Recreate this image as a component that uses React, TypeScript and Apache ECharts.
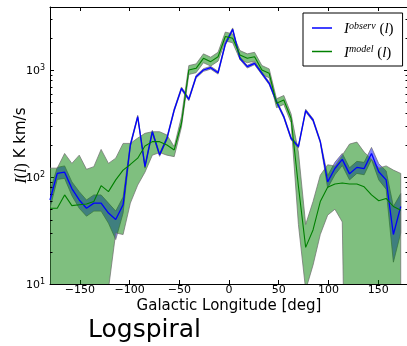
import React, { useEffect, useRef } from 'react';
import * as echarts from 'echarts';

const longitudes = [
  -180.0, -172.7, -165.3, -158.0, -150.6, -143.3, -135.9, -128.6, -121.2, -113.9,
  -106.5, -99.2, -91.8, -84.5, -77.1, -69.8, -62.4, -55.1, -47.8, -40.4,
  -33.1, -25.7, -18.4, -11.0, -3.7, 3.7, 11.0, 18.4, 25.7, 33.1,
  40.4, 47.8, 55.1, 62.4, 69.8, 77.1, 84.5, 91.8, 99.2, 106.5,
  113.9, 121.2, 128.6, 135.9, 143.3, 150.6, 158.0, 165.3, 172.7,
];

const observed = [
  61, 108, 111, 78, 61, 51, 57, 57, 46, 40,
  55, 199, 366, 125, 265, 161, 230, 423, 674, 532,
  866, 1000, 1050, 943, 1750, 2400, 1285, 1074, 1155, 931,
  751, 506, 366, 230, 192, 417, 341, 214, 90, 120,
  146, 107, 123, 120, 166, 112, 94, 29, 53,
];
const observedLow = [
  51, 95, 97, 67, 51, 43, 48, 48, 37, 26,
  46, 193, 355, 121, 257, 156, 223, 411, 654, 517,
  841, 971, 1019, 916, 1699, 2330, 1248, 1043, 1121, 904,
  729, 491, 355, 223, 186, 405, 331, 208, 79, 105,
  128, 94, 108, 105, 146, 94, 77, 16, 30,
];
const observedHigh = [
  73, 123, 127, 90, 73, 61, 68, 68, 57, 48,
  65, 205, 377, 129, 273, 166, 237, 436, 694, 548,
  892, 1030, 1082, 971, 1803, 2472, 1324, 1106, 1190, 959,
  774, 521, 377, 237, 198, 430, 351, 220, 103, 137,
  166, 122, 140, 137, 189, 133, 114, 53, 70,
];

const model = [
  51, 51, 68, 54, 55, 56, 59, 83, 73, 94,
  116, 131, 150, 195, 214, 214, 199, 179, 318, 1000,
  1037, 1286, 1197, 1331, 2056, 1977, 1380, 1286, 1331, 1000,
  931, 489, 525, 354, 82, 22, 32, 59, 80, 86,
  88, 86, 86, 81, 68, 60, 63, 53, 49,
];
const modelLow = [
  1, 1, 1, 1, 1, 1, 1, 1, 9, 30,
  29, 57, 84, 111, 160, 169, 160, 155, 293, 909,
  943, 1169, 1088, 1210, 1869, 1797, 1255, 1169, 1210, 909,
  846, 445, 477, 322, 36, 8.8, 15, 29, 44, 50,
  38, 0.003, 1, 1, 1, 1, 1, 1, 1,
];
const modelHigh = [
  121, 121, 166, 134, 160, 118, 125, 181, 134, 150,
  206, 206, 231, 256, 265, 265, 247, 192, 366, 1100,
  1140, 1415, 1317, 1464, 2262, 2175, 1518, 1415, 1464, 1100,
  1024, 538, 578, 389, 171, 36, 59, 104, 130, 127,
  160, 203, 212, 171, 147, 121, 127, 116, 108,
];

const xTickValues = [-150, -100, -50, 0, 50, 100, 150];
const yMinorTickValues = [20, 30, 40, 50, 60, 70, 80, 90, 200, 300, 400, 500, 600, 700, 800, 900, 2000, 3000];

const OBS_NAME = 'observ';
const MODEL_NAME = 'model';

export default function App() {
  const ref = useRef<HTMLDivElement>(null);

  useEffect(() => {
    const chart = echarts.init(ref.current as HTMLDivElement, null, { renderer: 'svg' });

    const band = (lo: number[], hi: number[], fill: string) => (params: any, api: any) => {
      if (params.dataIndex !== 0) return null;
      const pts: number[][] = [];
      for (let i = 0; i < longitudes.length; i++) pts.push(api.coord([longitudes[i], hi[i]]));
      for (let i = longitudes.length - 1; i >= 0; i--) pts.push(api.coord([longitudes[i], lo[i]]));
      const cs = params.coordSys;
      return {
        type: 'polygon',
        shape: { points: pts },
        clipPath: { type: 'rect', shape: { x: cs.x, y: cs.y, width: cs.width, height: cs.height } },
        style: { fill, stroke: 'rgba(110,110,110,0.8)', lineWidth: 0.9 },
      };
    };

    const serif = 'Liberation Serif';
    const legendRich = {
      gap: { width: 7 },
      it: { fontFamily: serif, fontStyle: 'italic', fontSize: 15, color: '#000' },
      sup: { fontFamily: serif, fontStyle: 'italic', fontSize: 10, color: '#000', verticalAlign: 'top', padding: [0, 0, 6, 0] },
      n: { fontFamily: serif, fontSize: 15, color: '#000' },
    };

    const tickStyle = { color: '#000', width: 1 };

    chart.setOption({
      animation: false,
      grid: { left: 50, top: 7, width: 358, height: 277, containLabel: false, outerBoundsMode: 'none' },
      legend: {
        data: [OBS_NAME, MODEL_NAME],
        orient: 'vertical',
        left: 303,
        top: 13,
        padding: [7, 9, 7, 9],
        itemGap: 8,
        itemWidth: 20,
        itemHeight: 1.5,
        icon: 'rect',
        backgroundColor: '#fff',
        borderColor: '#000',
        borderWidth: 1,
        borderRadius: 0,
        formatter: (name: string) => `{gap|}{it|I}{sup|${name}}{n| (}{it|l}{n|)}`,
        textStyle: { rich: legendRich },
      },
      xAxis: [
        {
          type: 'value',
          min: -180,
          max: 180,
          position: 'bottom',
          axisLine: { show: true, onZero: false, lineStyle: tickStyle },
          axisTick: { show: true, inside: true, length: 4, customValues: xTickValues, lineStyle: tickStyle },
          axisLabel: {
            customValues: xTickValues,
            color: '#000',
            fontFamily: 'DejaVu Sans',
            fontSize: 11,
            margin: 0,
            formatter: (v: number) => (v < 0 ? '\u2212' + Math.abs(v) : String(v)),
          },
          splitLine: { show: false },
          name: 'Galactic Longitude [deg]',
          nameLocation: 'middle',
          nameGap: 13,
          nameMoveOverlap: false,
          nameTextStyle: { fontFamily: 'DejaVu Sans', fontSize: 15, color: '#000', verticalAlign: 'top' },
        },
        {
          type: 'value',
          min: -180,
          max: 180,
          position: 'top',
          axisLine: { show: true, onZero: false, lineStyle: tickStyle },
          axisTick: { show: true, inside: true, length: 4, customValues: xTickValues, lineStyle: tickStyle },
          axisLabel: { show: false },
          splitLine: { show: false },
        },
      ],
      yAxis: [
        {
          type: 'log',
          logBase: 10,
          min: 10,
          max: 3880,
          position: 'left',
          axisLine: { show: true, onZero: false, lineStyle: tickStyle },
          axisTick: { show: true, inside: true, length: 4, lineStyle: tickStyle },
          axisLabel: {
            showMaxLabel: false,
            margin: 5,
            formatter: (v: number) => `{b|10}{s|${Math.round(Math.log10(v))}}`,
            rich: {
              b: { fontFamily: 'DejaVu Sans', fontSize: 11, color: '#000' },
              s: { fontFamily: 'DejaVu Sans', fontSize: 8, color: '#000', verticalAlign: 'top', padding: [0, 0, 6, 0] },
            },
          },
          splitLine: { show: false },
          name: '{it|I}{n|(}{it|l}{n|)}{s| K km/s}',
          nameLocation: 'middle',
          nameGap: 22,
          nameRotate: 90,
          nameMoveOverlap: false,
          nameTextStyle: {
            rich: {
              it: { fontFamily: serif, fontStyle: 'italic', fontSize: 16, color: '#000' },
              n: { fontFamily: serif, fontSize: 16, color: '#000' },
              s: { fontFamily: 'DejaVu Sans', fontSize: 15, color: '#000' },
            },
          },
        },
        {
          type: 'log',
          logBase: 10,
          min: 10,
          max: 3880,
          position: 'right',
          axisLine: { show: true, onZero: false, lineStyle: tickStyle },
          axisTick: { show: true, inside: true, length: 4, lineStyle: tickStyle },
          axisLabel: { show: false },
          splitLine: { show: false },
        },
      ],
      series: [
        {
          type: 'custom',
          name: 'observBand',
          clip: true,
          data: [[longitudes[0], observed[0]]],
          renderItem: band(observedLow, observedHigh, 'rgba(0,0,255,0.5)'),
          silent: true,
        },
        {
          type: 'custom',
          name: 'modelBand',
          clip: true,
          data: [[longitudes[0], model[0]]],
          renderItem: band(modelLow, modelHigh, 'rgba(0,128,0,0.5)'),
          silent: true,
        },
        {
          type: 'line',
          name: OBS_NAME,
          data: longitudes.map((x, i) => [x, observed[i]]),
          showSymbol: false,
          symbol: 'none',
          color: '#0000ff',
          lineStyle: { color: '#0000ff', width: 1.3 },
        },
        {
          type: 'line',
          name: MODEL_NAME,
          data: longitudes.map((x, i) => [x, model[i]]),
          showSymbol: false,
          symbol: 'none',
          color: '#008000',
          lineStyle: { color: '#008000', width: 1.1 },
        },
        {
          type: 'custom',
          name: 'minorTicks',
          data: yMinorTickValues.map((v) => [0, v]),
          silent: true,
          renderItem: (params: any, api: any) => {
            const cs = params.coordSys;
            const p = api.coord([0, api.value(1)]);
            const y = Math.round(p[1]) + 0.5;
            return {
              type: 'group',
              children: [
                { type: 'line', shape: { x1: cs.x, y1: y, x2: cs.x + 2.5, y2: y }, style: { stroke: '#000', lineWidth: 1 } },
                { type: 'line', shape: { x1: cs.x + cs.width - 2.5, y1: y, x2: cs.x + cs.width, y2: y }, style: { stroke: '#000', lineWidth: 1 } },
              ],
            };
          },
        },
      ],
      graphic: [
        {
          type: 'text',
          left: 88,
          top: 316,
          style: { text: 'Logspiral', fontFamily: 'DejaVu Sans', fontSize: 25, fill: '#000' },
        },
      ],
    });

    return () => chart.dispose();
  }, []);

  return <div ref={ref} style={{ position: 'fixed', left: 0, top: 0, width: 407, height: 346 }} />;
}
